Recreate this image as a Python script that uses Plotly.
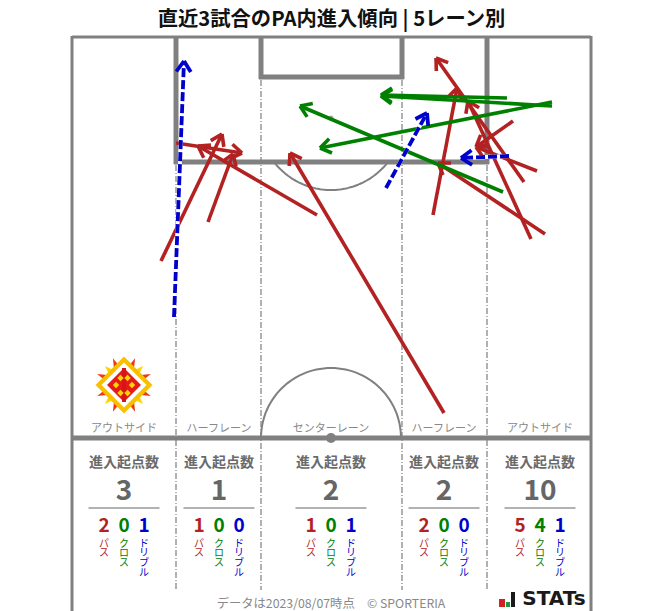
import math
import plotly.graph_objects as go

FONT = "Noto Sans CJK JP"
GREY = "#808080"
RED, GREEN, BLUE = "#b22222", "#008000", "#0000cd"

# Entry moves (start x, start y, end x, end y), in plot units
passes = [
    (161, 261, 222, 134), (176, 143, 242, 153), (208, 222, 233, 154),
    (317, 215, 198, 146), (444, 413, 290, 153), (433, 215, 457, 88),
    (524, 182, 436, 58), (531, 239, 468, 101), (545, 234, 438, 163),
    (513, 121, 476, 147), (537, 171, 476, 147),
]
crosses = [
    (507, 98, 381, 95), (552, 106, 381, 96),
    (552, 102, 320, 148), (503, 192, 300, 106),
]
dribbles = [
    (174, 317, 184, 61), (386, 188, 427, 113), (509, 156, 461, 158),
]

# Lane summaries
lanes = ["アウトサイド", "ハーフレーン", "センターレーン", "ハーフレーン", "アウトサイド"]
lane_x = [124, 219, 331, 444, 540]
totals = [3, 1, 2, 2, 10]
pass_counts = [2, 1, 1, 2, 5]
cross_counts = [0, 0, 0, 0, 4]
dribble_counts = [1, 0, 1, 0, 1]
kinds = [("パス", RED, pass_counts), ("クロス", GREEN, cross_counts), ("ドリブル", BLUE, dribble_counts)]

fig = go.Figure()
shapes = []


def line(x0, y0, x1, y1, color=GREY, width=3, dash=None):
    shapes.append(dict(type="line", x0=x0, y0=y0, x1=x1, y1=y1, layer="below",
                       line=dict(color=color, width=width, dash=dash)))


def arc(cx, cy, r, a0, a1, n=60):
    pts = []
    for i in range(n + 1):
        a = math.radians(a0 + (a1 - a0) * i / n)
        pts.append((cx + r * math.cos(a), cy + r * math.sin(a)))
    path = "M " + " L ".join(f"{x:.1f},{y:.1f}" for x, y in pts)
    shapes.append(dict(type="path", path=path, layer="below", line=dict(color=GREY, width=2)))


# Lane guides
LANE = "6px,2px,1px,2px"
for x, top in [(176, 165), (261, 80), (402, 80), (487, 165)]:
    line(x, top, x, 590, color="#888888", width=1.3, dash=LANE)

# Pitch frame
line(72, 37, 591, 37)
line(72, 36, 72, 611)
line(591, 36, 591, 611)
line(72, 438, 591, 438, width=5)
# Penalty area
line(176, 37, 176, 164, width=5)
line(487, 37, 487, 164, width=5)
line(174, 162, 489, 162, width=5)
# Goal area
line(261, 37, 261, 79, width=5)
line(402, 37, 402, 79, width=5)
line(259, 77, 404, 77, width=5)
# Arcs and spots
arc(331, 118, 72, 37.6, 142.4)
arc(331, 438, 70, 180, 360)
shapes.append(dict(type="circle", x0=326, x1=336, y0=433, y1=443, layer="below",
                   fillcolor=GREY, line=dict(width=0)))
shapes.append(dict(type="circle", x0=328.5, x1=333.5, y0=115.5, y1=120.5, layer="below",
                   fillcolor="#aaaaaa", line=dict(width=0)))


def add_moves(moves, color, width, dash=None):
    xs, ys, hx, hy = [], [], [], []
    for x0, y0, x1, y1 in moves:
        xs += [x0, x1, None]
        ys += [y0, y1, None]
        ang = math.atan2(y1 - y0, x1 - x0)
        for d in (2.55, -2.55):
            hx += [x1 + 13 * math.cos(ang + d), x1, None]
            hy += [y1 + 13 * math.sin(ang + d), y1, None]
    if dash:
        fig.add_trace(go.Scatter(x=xs, y=ys, mode="lines", hoverinfo="skip",
                                 line=dict(color="white", width=width)))
    fig.add_trace(go.Scatter(x=xs, y=ys, mode="lines", hoverinfo="skip",
                             line=dict(color=color, width=width, dash=dash)))
    fig.add_trace(go.Scatter(x=hx, y=hy, mode="lines", hoverinfo="skip",
                             line=dict(color=color, width=width)))


add_moves(passes, RED, 3.6)
add_moves(crosses, GREEN, 3.6)
add_moves(dribbles, BLUE, 3.8, dash="9px,3px")


def txt(x, y, s, size, color, fam=FONT):
    fig.add_trace(go.Scatter(x=[x], y=[y + 1.5], mode="text", text=[s], textposition="middle center",
                             hoverinfo="skip", textfont=dict(family=fam, size=size, color=color)))


for i, x in enumerate(lane_x):
    txt(x, 428, lanes[i], 11, "#888888")
    txt(x, 462, "<b>進入起点数</b>", 14, "#6a6a6a")
    txt(x, 491, f"<b>{totals[i]}</b>", 28, "#666666")
    line(x - 35.5, 508, x + 35.5, 508, color="#666666", width=1.2)
    for j, (name, col, counts) in enumerate(kinds):
        sx = x + (j - 1) * 20
        txt(sx, 526, f"<b>{counts[i]}</b>", 19, col)
        for k, ch in enumerate(name):
            txt(sx, 542.5 + k * 9.8, ch, 10, col)

txt(331, 603, "データは2023/08/07時点　© SPORTERIA", 12.3, "#888888")

# Club emblem
ECX, ECY = 124, 385


def poly(pts, color):
    path = "M " + " L ".join(f"{x:.1f},{y:.1f}" for x, y in pts) + " Z"
    shapes.append(dict(type="path", path=path, layer="above", fillcolor=color, line=dict(width=0)))


def diamond(r, color, cx=ECX, cy=ECY):
    poly([(cx + r, cy), (cx, cy + r), (cx - r, cy), (cx, cy - r)], color)


def spike(deg, r, color):
    a = math.radians(deg)
    w = math.radians(17)
    poly([(ECX + r * math.cos(a), ECY + r * math.sin(a)),
          (ECX + 15 * math.cos(a + w), ECY + 15 * math.sin(a + w)),
          (ECX + 15 * math.cos(a - w), ECY + 15 * math.sin(a - w))], color)


for q in range(4):
    spike(45 + 90 * q, 27, "#ffd400")
    spike(22.5 + 90 * q, 29, "#ee3a12")
    spike(67.5 + 90 * q, 29, "#ee3a12")
diamond(28.5, "#f9c000")
diamond(22.5, "#ffffff")
# red crest with gold details
diamond(17, "#e51a1a")
shapes.append(dict(type="rect", x0=122, x1=126, y0=368, y1=402, layer="above",
                   fillcolor="#d81414", line=dict(width=0)))
for dx, dy in [(-8, 0), (8, 0), (-3.5, 8), (3.5, 8), (-3.5, -7), (3.5, -7)]:
    diamond(3.2, "#ffd400", ECX + dx, ECY + dy)

# STATS mark
for x0, x1, y0, col in [(499, 505, 599, "#d42020"), (506, 510, 602, "#1a9a40"), (511, 515, 592, "#1a1a1a")]:
    shapes.append(dict(type="rect", x0=x0, x1=x1, y0=y0, y1=607, layer="above",
                       fillcolor=col, line=dict(width=0)))
txt(554, 598.5, "<b>STATs</b>", 20, "#1a1a1a", fam="DejaVu Sans")

fig.update_layout(
    width=663, height=611, margin=dict(l=0, r=0, t=0, b=0),
    paper_bgcolor="white", plot_bgcolor="white", showlegend=False,
    xaxis=dict(range=[0, 663], visible=False, fixedrange=True),
    yaxis=dict(range=[611, 0], visible=False, fixedrange=True),
    shapes=shapes,
    title=dict(text="<b>直近3試合のPA内進入傾向 | 5レーン別</b>", x=0.5, xanchor="center",
               y=1 - 19 / 611, yanchor="middle",
               font=dict(family=FONT, size=20.3, color="#111111")),
)
fig.write_html("out.html", config={"displayModeBar": False},
               post_script="document.body.style.margin='0';")
